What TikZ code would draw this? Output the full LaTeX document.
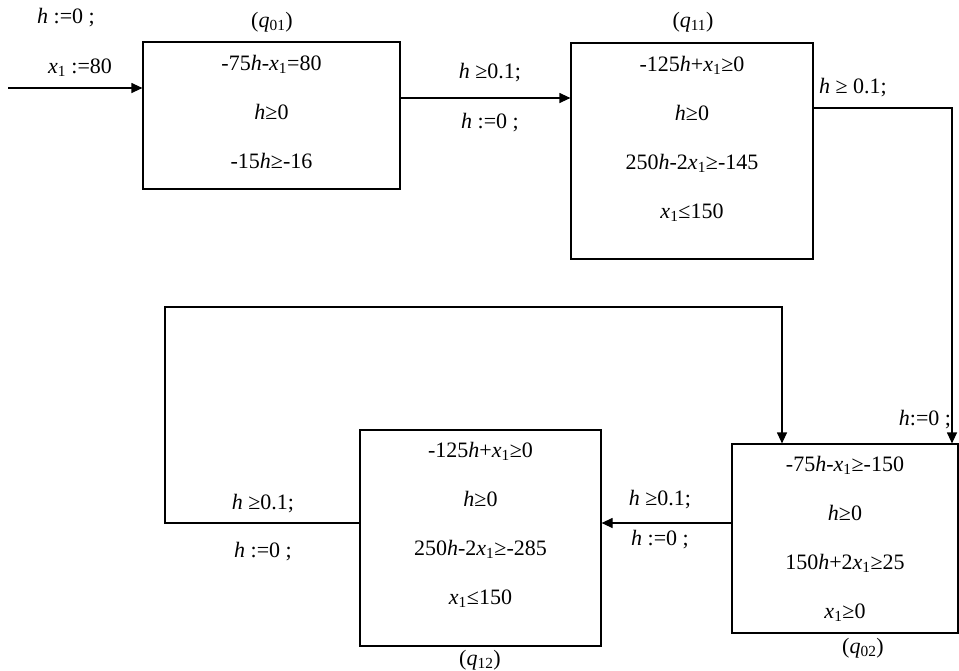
\documentclass[tikz,border=0pt]{standalone}
\usepackage{fontspec}
\setmainfont{Liberation Serif}
\usetikzlibrary{arrows.meta}
\newcommand\hv{\textit{h}}
\newcommand\xv{\textit{x}\textsubscript{1}}
\newcommand\qv[1]{(\textit{q}\textsubscript{#1})}
\begin{document}
\begin{tikzpicture}[x=1pt,y=-1pt,
  box/.style={draw,line width=1.2pt,minimum width=#1,inner sep=0pt},
  boxtext/.style={anchor=north,align=center,inner sep=0pt,font=\fontsize{22}{49}\selectfont},
  lbl/.style={inner sep=0pt,font=\fontsize{22}{26}\selectfont},
  conn/.style={line width=1.2pt},
  arr/.style={line width=1.2pt,-{Triangle[length=11pt,width=10pt]}}]
\useasboundingbox (0,0) rectangle (959,670);
% boxes
\node[box=257pt,minimum height=147pt] (q01) at (271.5,115.5) {};
\node[box=242pt,minimum height=216pt] (q11) at (692,151) {};
\node[box=226pt,minimum height=189pt] (q02) at (845,538.5) {};
\node[box=241pt,minimum height=216pt] (q12) at (480.5,538) {};
% box contents
\node[boxtext] (q01t) at ([yshift=-14pt]q01.north) {-75\hv-\xv=80\\\hv≥0\\-15\hv≥-16};
\node[boxtext] (q11t) at ([yshift=-14pt]q11.north) {-125\hv+\xv≥0\\\hv≥0\\250\hv-2\xv≥-145\\\xv≤150};
\node[boxtext] (q02t) at ([yshift=-13pt]q02.north) {-75\hv-\xv≥-150\\\hv≥0\\150\hv+2\xv≥25\\\xv≥0};
\node[boxtext] (q12t) at ([yshift=-13pt]q12.north) {-125\hv+\xv≥0\\\hv≥0\\250\hv-2\xv≥-285\\\xv≤150};
% state names
\node[lbl] (n01) at (272,22) {\qv{01}};
\node[lbl] (n11) at (693,22) {\qv{11}};
\node[lbl] (n02) at (863,648) {\qv{02}};
\node[lbl] (n12) at (480,660) {\qv{12}};
% coordinates
\coordinate (start) at (8,88);
\coordinate (c1) at (952,108);
\coordinate (l1) at (165,523);
\coordinate (l2) at (165,307);
\coordinate (l3) at (782,307);
% connectors
\draw[arr] (start) -- (start -| q01.west);
\draw[arr] (q01.east |- 0,98) -- (q11.west |- 0,98);
\draw[arr] (q11.east |- c1) -- (c1) -- (c1 |- q02.north);
\draw[arr] (q02.west |- 0,523) -- (q12.east |- 0,523);
\draw[arr] (q12.west |- l1) -- (l1) -- (l2) -- (l3) -- (l3 |- q02.north);
% labels
\node[lbl] (a1) at (66,18) {\hv\ :=0 ;};
\node[lbl] (a2) at (80,68) {\xv\ :=80};
\node[lbl] (b1) at (490,73) {\hv\ ≥0.1;};
\node[lbl] (b2) at (490,123) {\hv\ :=0 ;};
\node[lbl] (c1l) at (853,88) {\hv\ ≥ 0.1;};
\node[lbl] (c2l) at (925,420) {\hv:=0 ;};
\node[lbl] (d1) at (660,500) {\hv\ ≥0.1;};
\node[lbl] (d2) at (660,540) {\hv\ :=0 ;};
\node[lbl] (e1) at (263,504) {\hv\ ≥0.1;};
\node[lbl] (e2) at (263,552) {\hv\ :=0 ;};
\end{tikzpicture}
\end{document}
